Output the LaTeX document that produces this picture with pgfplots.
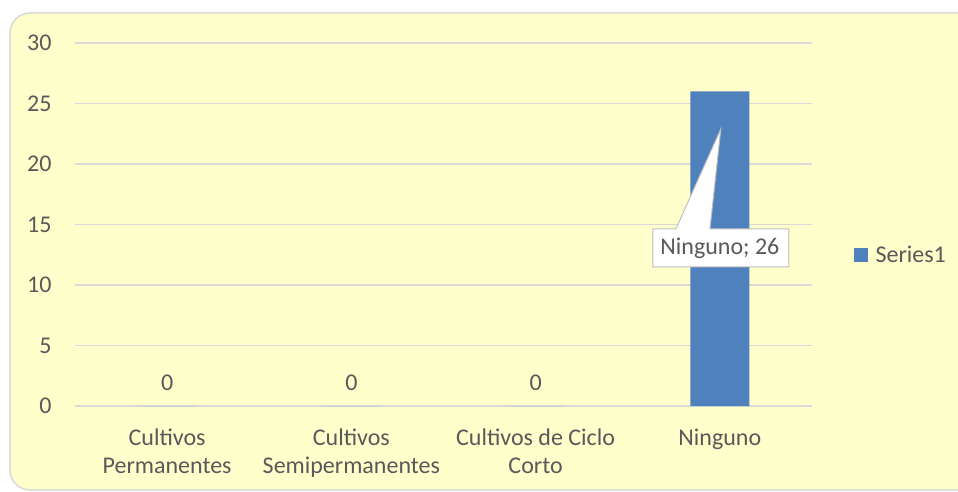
\documentclass[border=0pt]{standalone}
\usepackage{pgfplots}
\pgfplotsset{compat=1.18}
\usepackage{fontspec}
\setmainfont{Carlito}
\definecolor{bgyellow}{HTML}{FFFFCC}
\definecolor{bordergray}{HTML}{D9D9D9}
\definecolor{barblue}{HTML}{4F81BD}
\definecolor{txtgray}{HTML}{595959}
\definecolor{calloutgray}{HTML}{BFBFBF}
\begin{document}
\begin{tikzpicture}
\useasboundingbox (0pt,0pt) rectangle (958pt,491pt);
\fill[white] (0pt,0pt) rectangle (958pt,491pt);
\draw[bordergray, line width=1.5pt, fill=bgyellow, rounded corners=20pt] (10pt,1pt) rectangle (985pt,478pt);
\begin{axis}[
  at={(75pt,85pt)}, anchor=south west,
  scale only axis, width=737pt, height=363pt,
  ybar, bar width=59pt,
  xmin=-0.5, xmax=3.5, ymin=0, ymax=30,
  ytick={0,5,...,30},
  xtick={0,1,2,3},
  xticklabels={{Cultivos\\Permanentes},{Cultivos\\Semipermanentes},{Cultivos de Ciclo\\Corto},{Ninguno}},
  xticklabel style={align=center, font=\fontsize{24}{28}\selectfont, text=txtgray, yshift=-19pt},
  yticklabel style={font=\fontsize{24}{28}\selectfont, text=txtgray, xshift=-20pt},
  /pgf/number format/assume math mode=true,
  major tick length=0pt,
  axis line style={draw=none},
  ymajorgrids, grid style={bordergray, line width=1.5pt},
  axis background/.style={fill=none},
  legend style={at={(1.052,0.416)}, anchor=west, draw=none, fill=none, font=\fontsize{24}{28}\selectfont, text=txtgray},
  legend image code/.code={\fill[barblue] (0pt,-7pt) rectangle (14pt,7pt); \path (20pt,0pt);},
  nodes near coords, point meta=explicit symbolic,
  every node near coord/.append style={font=\fontsize{24}{28}\selectfont, text=txtgray, yshift=12pt},
]
\addplot[fill=barblue, draw=none] coordinates {(0,0) [0] (1,0) [0] (2,0) [0] (3,26) [{}]};
\addlegendentry{Series1}
\fill[white, draw=calloutgray, line width=1pt]
  (axis cs:2.636,14.63) -- (axis cs:2.761,14.63) -- (axis cs:3.005,22.89) -- (axis cs:2.946,14.63)
  -- (axis cs:3.375,14.63) -- (axis cs:3.375,11.49) -- (axis cs:2.636,11.49) -- cycle;
\node[text=txtgray, font=\fontsize{24}{28}\selectfont] at (axis cs:3.0,13.06) {Ninguno; 26};
\end{axis}
\end{tikzpicture}
\end{document}
